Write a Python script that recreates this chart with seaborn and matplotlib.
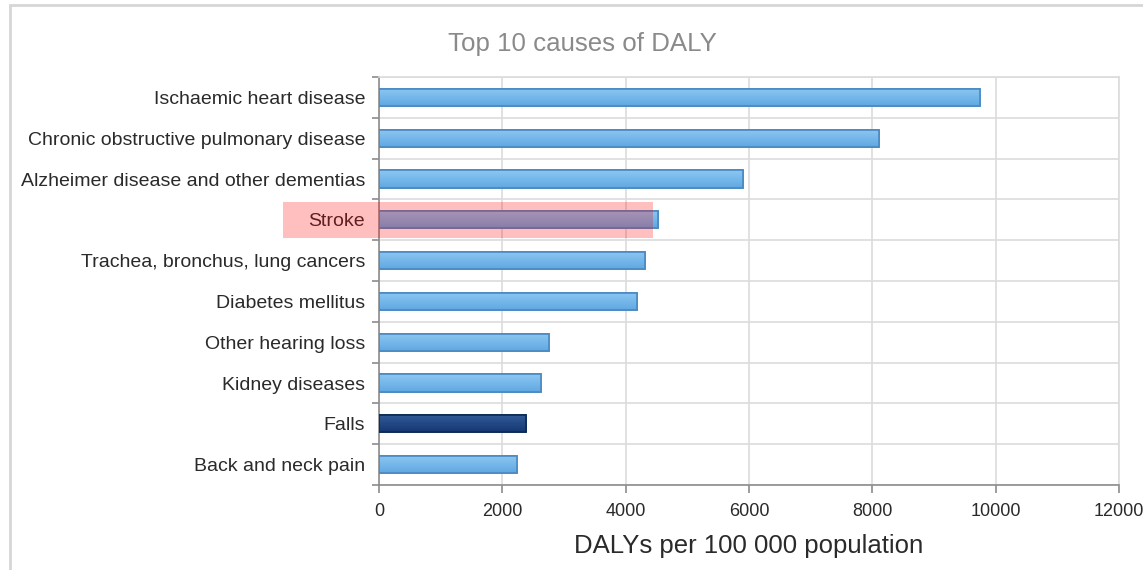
import numpy as np
import pandas as pd
import matplotlib
matplotlib.use("Agg")
import matplotlib.pyplot as plt
from matplotlib.patches import Rectangle
from matplotlib.ticker import FixedLocator
import seaborn as sns

causes = [
    "Ischaemic heart disease",
    "Chronic obstructive pulmonary disease",
    "Alzheimer disease and other dementias",
    "Stroke",
    "Trachea, bronchus, lung cancers",
    "Diabetes mellitus",
    "Other hearing loss",
    "Kidney diseases",
    "Falls",
    "Back and neck pain",
]
dalys = [9750, 8100, 5900, 4520, 4310, 4180, 2760, 2630, 2390, 2245]
focus_cause = "Falls"
marked_cause = "Stroke"
x_ticks = [0, 2000, 4000, 6000, 8000, 10000, 12000]

sns.set_theme(style="white")
plt.rcParams["font.family"] = ["Liberation Sans", "DejaVu Sans"]

df = pd.DataFrame({"cause": causes, "daly": dalys})
df["group"] = np.where(df["cause"] == focus_cause, "focus", "other")

fig = plt.figure(figsize=(11.43, 5.70), dpi=100)
ax = fig.add_axes([379 / 1143, 1 - 485 / 570, (1119 - 379) / 1143, (485 - 77) / 570])

palette = {"other": "#6cb3ea", "focus": "#1f4a82"}
edges = {"other": "#4a89c2", "focus": "#0c2a55"}
sns.barplot(data=df, x="daly", y="cause", hue="group", palette=palette,
            order=causes, width=0.42, dodge=False, legend=False, ax=ax,
            linewidth=1.2, zorder=3)

# vertical shading inside each bar
for patch in list(ax.patches):
    x0, y0 = patch.get_x(), patch.get_y()
    w, h = patch.get_width(), patch.get_height()
    if w <= 0:
        continue
    cause = causes[int(round(y0 + h / 2))]
    grp = "focus" if cause == focus_cause else "other"
    patch.set_edgecolor(edges[grp])
    if grp == "other":
        top, bot = np.array([0.55, 0.78, 0.95]), np.array([0.38, 0.66, 0.89])
    else:
        top, bot = np.array([0.20, 0.36, 0.60]), np.array([0.08, 0.22, 0.45])
    t = np.linspace(0, 1, 32)[:, None]
    grad = (top * (1 - t) + bot * t)[:, None, :]
    im = ax.imshow(grad, extent=[x0, x0 + w, y0 + h, y0], aspect="auto",
                   zorder=3.5, interpolation="bilinear", origin="upper")
    im.set_clip_path(patch)
    ax.add_patch(Rectangle((x0, y0), w, h, fill=False, edgecolor=edges[grp],
                           linewidth=1.2, zorder=4))

ax.set_xlim(0, 12000)
ax.set_ylim(len(causes) - 0.5, -0.5)
ax.set_xticks(x_ticks)
ax.set_xticklabels([str(v) for v in x_ticks])

# grid: verticals at the x ticks, horizontals between categories
ax.yaxis.set_minor_locator(FixedLocator(np.arange(-0.5, len(causes), 1.0)))
ax.grid(True, axis="x", color="#dcdcdc", linewidth=1.2, zorder=0)
ax.grid(True, axis="y", which="minor", color="#dcdcdc", linewidth=1.2, zorder=0)
ax.set_axisbelow(True)

for side in ["top", "right"]:
    ax.spines[side].set_visible(True)
    ax.spines[side].set_color("#dcdcdc")
    ax.spines[side].set_linewidth(1.2)
for side in ["left", "bottom"]:
    ax.spines[side].set_color("#8c8c8c")
    ax.spines[side].set_linewidth(1.2)

ax.tick_params(axis="y", which="major", length=0, pad=10, labelsize=14,
               labelcolor="#2a2a2a")
ax.tick_params(axis="y", which="minor", length=5, width=1.2, color="#8c8c8c",
               left=True)
ax.tick_params(axis="x", length=6, width=1.2, color="#8c8c8c", bottom=True,
               labelsize=13, labelcolor="#2a2a2a", pad=7)

ax.set_ylabel("")
ax.set_xlabel("DALYs per 100 000 population", fontsize=18.5, color="#2a2a2a",
              labelpad=10)
fig.text(582 / 1143, 1 - 44 / 570, "Top 10 causes of DALY", ha="center",
         va="center", fontsize=18.6, color="#8a8a8a")

# translucent marker over one row
row = causes.index(marked_cause)
ax.add_patch(Rectangle((-1560, row - 0.44), 1560 + 4440, 0.88,
                       facecolor=(1.0, 0.0, 0.0, 0.25), edgecolor="none",
                       zorder=10, clip_on=False))

# outer frame
fig.patches.append(Rectangle((10 / 1143, -0.05), 1.2, 1 - 5 / 570 + 0.05,
                             transform=fig.transFigure, fill=False,
                             edgecolor="#d6d6d6", linewidth=2.0))

fig.savefig("out.png", dpi=100)
